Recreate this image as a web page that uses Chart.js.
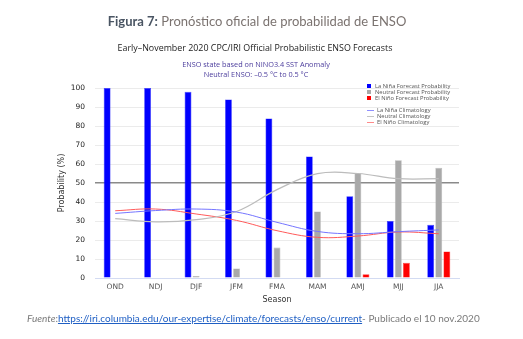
<!DOCTYPE html>
<html><head><meta charset="utf-8">
<script src="https://cdn.jsdelivr.net/npm/chart.js@4.4.0/dist/chart.umd.min.js"></script>
<style>
html,body{margin:0;padding:0;background:#fff;}
#wrap{position:relative;width:523px;height:339px;overflow:hidden;font-family:Lato,"Liberation Sans",sans-serif;}
#c{position:absolute;left:0;top:0;}
.t{position:absolute;white-space:nowrap;}
#fig{left:0;width:514px;text-align:center;top:13px;font-size:13px;color:#7b7370;}
#fig b{color:#4a5563;font-weight:bold;}
#ttl{left:0;width:510px;text-align:center;top:41px;font-size:8.9px;color:#222;font-family:"Open Sans",sans-serif;}
#s1{left:0;width:512px;text-align:center;top:59px;font-size:7.3px;color:#4b3c9c;font-family:"Open Sans",sans-serif;}
#s2{left:0;width:512px;text-align:center;top:69px;font-size:7.3px;color:#4b3c9c;font-family:"Open Sans",sans-serif;}
#foot{left:27px;top:312px;font-size:10px;color:#7a7a7a;}
#foot i{color:#7a7a7a;}
#foot a{color:#1f5fc4;text-decoration:underline;}
.lg{position:absolute;left:367px;font-size:5.8px;color:#555;font-family:"Open Sans",sans-serif;line-height:6px;}
.lg .sq{display:inline-block;width:4px;height:4px;margin-right:4px;vertical-align:middle;}
.lg .ln{display:inline-block;width:7px;height:1px;margin-right:3px;vertical-align:middle;}
</style></head>
<body>
<div id="wrap">
<canvas id="c" width="523" height="339"></canvas>
<div class="t" id="fig"><b>Figura 7:</b> Pronóstico oficial de probabilidad de ENSO</div>
<div class="t" id="ttl">Early–November 2020 CPC/IRI Official Probabilistic ENSO Forecasts</div>
<div class="t" id="s1">ENSO state based on NINO3.4 SST Anomaly</div>
<div class="t" id="s2">Neutral ENSO: –0.5 °C to 0.5 °C</div>
<div id="legend"></div>
<div class="t" id="foot"><i>Fuente</i>:<a href="#">https://iri.columbia.edu/our-expertise/climate/forecasts/enso/current</a>- Publicado el 10 nov.2020</div>
</div>
<script>
const seasons = ["OND","NDJ","DJF","JFM","FMA","MAM","AMJ","MJJ","JJA"];
const laNinaForecast  = [100,100,98,94,84,64,43,30,28];
const neutralForecast = [0,0,1,5,16,35,55,62,58];
const elNinoForecast  = [0,0,0,0,0,0,2,8,14];
const laNinaClim  = [34,35.5,36.3,34.7,29.3,24.5,23.3,24.4,25.3];
const neutralClim = [31.2,29.5,30.7,35,46.5,54.9,55,52.3,52.3];
const elNinoClim  = [35.4,36.3,33.7,30.3,24.9,21.4,22.1,24.2,23.3];
const yTicks = [0,10,20,30,40,50,60,70,80,90,100];

const legendItems = [
  {label:"La Niña Forecast Probability", color:"#0000ff", kind:"sq", top:83},
  {label:"Neutral Forecast Probability", color:"#a9a9a9", kind:"sq", top:89},
  {label:"El Niño Forecast Probability", color:"#ff0000", kind:"sq", top:95},
  {label:"La Niña Climatology", color:"#8f8fff", kind:"ln", top:107},
  {label:"Neutral Climatology", color:"#c4c4c4", kind:"ln", top:113},
  {label:"El Niño Climatology", color:"#ff8a8a", kind:"ln", top:119}
];
const lg = document.getElementById('legend');
legendItems.forEach(it=>{
  const d=document.createElement('div'); d.className='lg'; d.style.top=it.top+'px';
  const m=document.createElement('span'); m.className=it.kind; m.style.background=it.color;
  d.appendChild(m); d.appendChild(document.createTextNode(it.label)); lg.appendChild(d);
});

const tickFont = {family:"'DejaVu Sans', sans-serif", size:7.5};
new Chart(document.getElementById('c'), {
  data: {
    labels: seasons,
    datasets: [
      {type:'line', data:laNinaClim, borderColor:'#7575ff', borderWidth:1, pointRadius:0, tension:0.4, order:0},
      {type:'line', data:neutralClim, borderColor:'#bcbcbc', borderWidth:1.2, pointRadius:0, tension:0.4, order:0},
      {type:'line', data:elNinoClim, borderColor:'#ff5a5a', borderWidth:1, pointRadius:0, tension:0.4, order:0},
      {type:'bar', data:laNinaForecast, backgroundColor:'#0000ff', borderColor:'#3b3bff', borderWidth:0.6, order:1, categoryPercentage:0.6, barPercentage:0.85},
      {type:'bar', data:neutralForecast, backgroundColor:'#a9a9a9', borderColor:'#b5b5b5', borderWidth:0.6, order:1, categoryPercentage:0.6, barPercentage:0.85},
      {type:'bar', data:elNinoForecast, backgroundColor:'#ff0000', borderColor:'#ff4040', borderWidth:0.6, order:1, categoryPercentage:0.6, barPercentage:0.85}
    ]
  },
  options: {
    responsive:false, animation:false, devicePixelRatio:1,
    layout:{padding:{left:53, right:64, top:88, bottom:30}},
    plugins:{legend:{display:false}, tooltip:{enabled:false}, title:{display:false}},
    scales:{
      x:{
        grid:{display:false, drawTicks:false},
        border:{display:true, color:'#d3dbf2', width:1},
        ticks:{font:tickFont, color:'#555', padding:5},
        title:{display:true, text:'Season', font:{family:"'DejaVu Sans', sans-serif", size:8}, color:'#333', padding:{top:0,bottom:4}},
        afterFit:(s)=>{s.height=31;}
      },
      y:{
        min:0, max:100,
        afterBuildTicks:(s)=>{s.ticks = yTicks.map(v=>({value:v}));},
        grid:{drawTicks:false, color:(c)=> c.tick && c.tick.value===50 ? '#8a8a8a' : (c.tick && c.tick.value===0 ? '#d3dbf2' : '#ebebeb'),
              lineWidth:(c)=> c.tick && c.tick.value===50 ? 1.4 : 1},
        border:{display:false},
        ticks:{font:tickFont, color:'#222', padding:10},
        title:{display:true, text:'Probability (%)', font:{family:"'DejaVu Sans', sans-serif", size:8}, color:'#333', padding:{top:4,bottom:4}},
        afterFit:(s)=>{s.width=42;}
      }
    }
  }
});
</script>
</body></html>
